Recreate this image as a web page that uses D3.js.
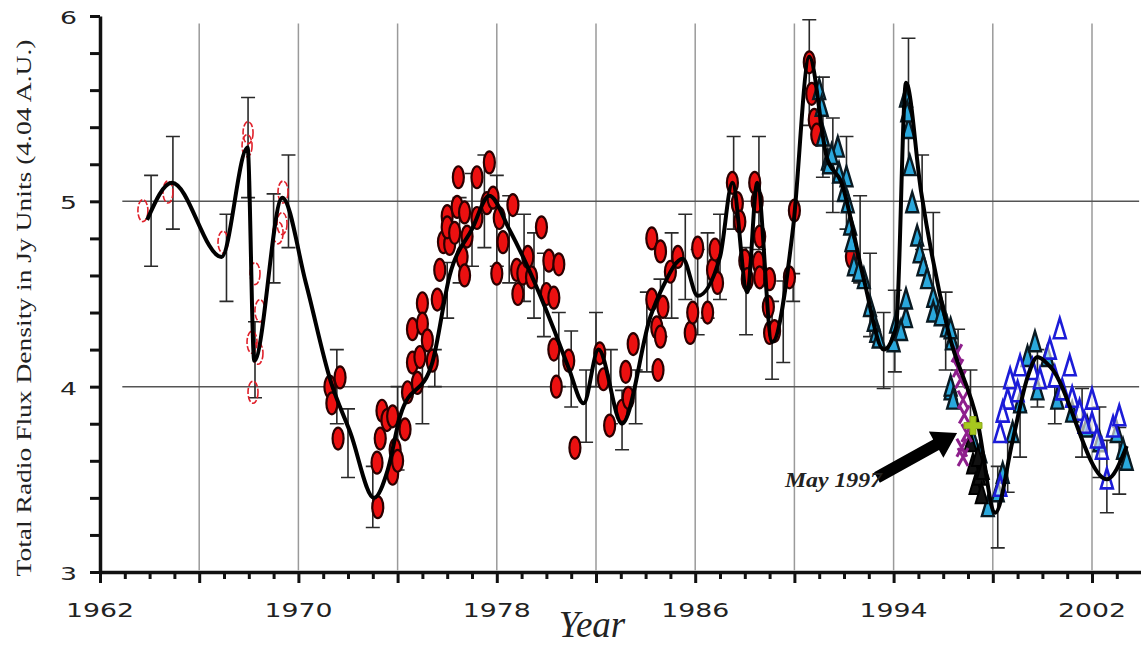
<!DOCTYPE html>
<html>
<head>
<meta charset="utf-8">
<script src="https://cdn.jsdelivr.net/npm/d3@7"></script>
<style>
  body { margin:0; background:#fff; }
  text { fill:#222; }
</style>
</head>
<body>
<svg id="chart" width="1141" height="646"></svg>
<script>
// ---- data (year, value) ----
var xLabels = [1962, 1970, 1978, 1986, 1994, 2002];
var yLabels = [3, 4, 5, 6];
var gridYears = [1966, 1970, 1974, 1978, 1982, 1986, 1990, 1994, 1998, 2002];
var gridValues = [4, 5];

var fitCurve = [[1963.9,4.90],[1964.9,5.10],[1966.9,4.70],[1967.95,5.29],[1968.22,4.14],[1969.35,5.02],
  [1970.3,4.56],[1971.3,4.03],[1972.1,3.75],[1973.05,3.40],[1973.6,3.55],[1974.1,3.84],[1975.4,4.13],
  [1976.1,4.60],[1977.0,4.85],[1977.7,5.03],[1978.5,4.85],[1979.3,4.63],[1980.3,4.31],[1980.9,4.10],
  [1981.5,3.91],[1982.1,4.20],[1983.05,3.80],[1984.2,4.38],[1984.7,4.54],[1985.5,4.69],[1986.1,4.49],
  [1987.0,4.70],[1987.5,5.10],[1988.1,4.51],[1988.5,5.10],[1989.1,4.24],[1989.95,4.86],[1990.6,5.78],
  [1991.3,5.24],[1991.9,5.10],[1992.8,4.58],[1993.6,4.20],[1994.1,4.32],[1994.5,5.64],[1995.1,5.06],
  [1996.2,4.30],[1997.4,3.80],[1998.1,3.32],[1998.8,3.71],[1999.4,4.05],[1999.8,4.16],[2000.3,4.11],
  [2002.6,3.50],[2003.4,3.68]];

var openRed = [[1963.73,4.95],[1964.74,5.05],[1966.96,4.78],[1967.97,5.37],[1967.93,5.30],[1968.25,4.61],
  [1968.45,4.41],[1968.13,4.24],[1968.37,4.18],[1968.17,3.97],[1969.18,4.83],[1969.34,4.88],[1969.38,5.05]];

var filledRed = [[1971.27,4.00],[1971.68,4.05],[1971.35,3.91],[1971.6,3.72],[1973.17,3.59],[1973.2,3.35],
  [1973.37,3.87],[1973.57,3.82],[1973.8,3.84],[1973.8,3.53],[1973.9,3.66],[1974.3,3.77],[1974.6,4.31],
  [1974.6,4.13],[1974.4,3.97],[1974.9,4.16],[1975.0,4.45],[1975.0,4.34],[1975.4,4.14],[1975.6,4.47],
  [1975.7,4.63],[1975.85,4.78],[1976.0,4.92],[1976.1,4.77],[1976.0,4.86],[1976.45,5.13],[1976.4,4.97],
  [1976.7,4.94],[1976.6,4.70],[1976.7,4.60],[1976.8,4.81],[1977.2,5.13],[1977.2,4.91],[1977.6,4.99],
  [1977.7,5.21],[1977.85,5.02],[1978.0,4.61],[1978.1,4.91],[1978.25,4.78],[1978.65,4.98],[1978.8,4.63],
  [1978.85,4.50],[1979.05,4.61],[1979.25,4.70],[1979.4,4.59],[1979.8,4.86],[1980.0,4.50],[1980.1,4.68],
  [1980.3,4.48],[1980.5,4.66],[1980.3,4.20],[1980.4,4.00],[1980.9,4.14],[1981.15,3.67],[1982.15,4.18],
  [1982.3,4.04],[1982.55,3.79],[1983.2,4.08],[1983.05,3.87],[1983.3,3.94],[1983.5,4.23],[1984.25,4.80],
  [1984.6,4.73],[1984.25,4.47],[1984.45,4.32],[1984.6,4.27],[1984.7,4.43],[1984.5,4.09],[1985.0,4.62],
  [1985.3,4.70],[1985.8,4.29],[1985.9,4.40],[1986.1,4.75],[1986.5,4.40],[1986.7,4.63],[1986.8,4.74],
  [1986.9,4.56],[1987.5,5.10],[1987.7,4.99],[1987.8,4.89],[1988.0,4.68],[1988.1,4.58],[1988.4,5.10],
  [1988.5,5.00],[1988.6,4.81],[1988.55,4.67],[1988.6,4.59],[1989.0,4.58],[1988.95,4.43],[1989.0,4.29],
  [1989.2,4.30],[1989.8,4.59],[1990.0,4.95],[1990.6,5.75],[1990.7,5.58],[1990.8,5.44],[1990.9,5.36],
  [1992.3,4.70],[1973.3,3.72],[1974.0,3.60],[1974.8,4.02],[1975.2,4.25],[1976.3,4.83]];

var cyanTri = [[1991.0,5.60],[1991.1,5.51],[1991.15,5.35],[1991.35,5.22],[1991.4,5.20],[1991.75,5.29],
  [1991.8,5.15],[1992.1,5.13],[1992.15,4.99],[1992.25,4.87],[1992.3,4.78],[1992.4,4.65],[1992.8,4.58],
  [1993.05,4.43],[1993.2,4.35],[1993.3,4.29],[1994.0,4.24],[1994.1,4.34],[1994.5,4.37],[1994.5,4.47],
  [1994.5,5.56],[1994.6,5.39],[1994.65,5.19],[1994.75,4.99],[1994.95,4.81],[1995.05,4.72],[1995.2,4.65],
  [1995.35,4.58],[1995.6,4.48],[1995.9,4.43],[1996.15,4.32],[1996.35,4.25],[1996.3,3.98],[1995.6,4.40],
  [1995.9,4.38],[1996.3,4.31],[1996.3,4.00],[1996.4,3.93],[1997.2,3.71],[1997.5,3.64],[1997.8,3.35],
  [1998.2,3.43],[1998.4,3.53],[1998.8,3.75],[1999.1,3.91],[1999.4,4.16],[1999.7,4.24],[1999.8,3.98],
  [2000.2,4.16],[2000.6,3.93],[2001.2,3.86],[2001.8,3.78],[2002.3,3.70],[2003.0,3.75],[2003.25,3.66],
  [2003.4,3.60],[1991.5,5.25],[1992.0,5.05],[1992.6,4.62],[1993.4,4.26],[1994.3,4.30],[1994.55,5.48]];

var blueTri = [[1998.3,3.75],[1998.6,3.93],[1998.7,4.04],[1999.0,3.97],[1999.1,4.11],[1999.6,4.09],
  [1999.9,4.04],[2000.3,4.20],[2000.7,4.31],[2000.8,3.98],[2001.1,4.11],[2001.2,3.94],[2001.5,3.87],
  [2002.0,3.93],[2002.0,3.80],[2002.4,3.66],[2002.6,3.50],[2002.85,3.78],[2003.1,3.84],[1998.4,3.86],
  [1998.3,3.46],[2000.5,4.05],[2001.7,3.80],[2002.2,3.72]];

var blackTri = [[1997.1,3.70],[1997.2,3.58],[1997.3,3.47],[1997.45,3.52],[1997.55,3.42],[1997.4,3.62],[1997.6,3.55]];

var purpleX = [[1996.55,4.18],[1996.6,4.10],[1996.7,4.04],[1996.8,3.93],[1996.85,3.85],[1996.75,3.67],
  [1996.8,3.62],[1996.95,3.75]];

var may1997 = [1997.2, 3.79];

// error bars: year, low, high
var errorBars = [[1964.06,4.65,5.14],[1964.94,4.85,5.35],[1967.1,4.46,4.93],[1967.97,5.02,5.56],
  [1968.25,3.94,4.35],[1969.0,4.56,5.04],[1969.6,4.75,5.25],[1971.55,3.80,4.20],[1972.0,3.51,3.88],
  [1973.0,3.24,3.57],[1974.0,3.55,4.00],[1975.0,3.80,4.20],[1975.5,4.00,4.20],[1976.0,4.37,4.67],
  [1976.5,4.56,5.02],[1977.0,4.65,5.15],[1977.5,4.75,5.25],[1978.0,4.65,5.14],[1978.5,4.56,5.03],
  [1979.1,4.46,4.93],[1979.5,4.37,4.83],[1979.9,4.27,4.72],[1980.5,4.00,4.40],[1981.0,3.89,4.30],
  [1981.6,3.70,4.09],[1982.0,4.00,4.40],[1982.6,3.80,4.20],[1983.05,3.66,3.98],[1983.6,3.80,4.09],
  [1984.05,4.08,4.51],[1984.6,4.27,4.58],[1985.05,4.37,4.83],[1985.6,4.47,4.93],[1986.1,4.28,4.74],
  [1986.5,4.37,4.83],[1987.0,4.47,4.93],[1987.55,4.85,5.35],[1988.05,4.28,4.75],[1988.57,4.74,5.35],
  [1989.1,4.04,4.46],[1989.55,4.13,4.57],[1989.95,4.46,4.61],[1990.6,5.41,5.98],[1991.15,5.13,5.67],
  [1991.55,4.94,5.45],[1992.1,4.85,5.35],[1992.65,4.56,5.03],[1993.05,4.27,4.72],[1993.6,3.99,4.40],
  [1994.05,4.08,4.52],[1994.6,5.15,5.88],[1995.15,4.74,5.25],[1995.6,4.43,4.94],[1996.1,4.09,4.51],
  [1996.6,4.09,4.31],[1997.1,3.71,4.09],[1998.2,3.13,3.57],[1998.6,3.43,3.70],[1999.1,3.62,3.87],
  [1999.8,3.89,4.20],[2000.5,3.80,4.00],[2001.6,3.62,3.99],[2002.3,3.51,3.89],[2002.6,3.32,3.71],
  [2003.1,3.42,3.78]];

var arrowFrom = [1993.33, 3.51], arrowTo = [1996.56, 3.75];
var arrowLabel = {text:"May 1997", year:1989.62, value:3.459};

// ---- scales ----
var svg = d3.select("#chart");
var x = d3.scaleLinear().domain([1962, 2004]).range([100, 1141.6]);
var y = d3.scaleLinear().domain([3, 6]).range([572, 16]);

// grid
svg.append("g").selectAll("line").data(gridYears).enter().append("line")
  .attr("x1", function(d){ return x(d); }).attr("x2", function(d){ return x(d); })
  .attr("y1", y(5.96)).attr("y2", y(3.01))
  .attr("stroke", "#9a9a9a").attr("stroke-width", 1.5);
svg.append("g").selectAll("line").data(gridValues).enter().append("line")
  .attr("x1", x(1962.9)).attr("x2", x(2003.9))
  .attr("y1", function(d){ return y(d); }).attr("y2", function(d){ return y(d); })
  .attr("stroke", "#555").attr("stroke-width", 1.5);

// axes
var xAxis = d3.axisBottom(x).tickValues(d3.range(1962, 2004)).tickSize(8).tickSizeOuter(0).tickFormat("");
var gx = svg.append("g").attr("transform", "translate(0," + y(3) + ")").call(xAxis);
gx.select(".domain").attr("stroke", "#111").attr("stroke-width", 3.5);
gx.selectAll(".tick line").attr("stroke", "#111").attr("stroke-width", 3)
  .attr("y2", function(d){ return (d - 1962) % 4 == 0 ? 11 : 7; });

var yAxis = d3.axisLeft(y).tickValues(d3.range(0, 16).map(function(i){ return 3 + i * 0.2; }))
  .tickSize(10).tickSizeOuter(0).tickFormat("");
var gy = svg.append("g").attr("transform", "translate(" + x(1962) + ",0)").call(yAxis);
gy.select(".domain").attr("stroke", "#111").attr("stroke-width", 3.5);
gy.selectAll(".tick line").attr("stroke", "#111").attr("stroke-width", 3);

svg.append("g").selectAll("text").data(xLabels).enter().append("text")
  .attr("x", function(d){ return x(d) - 34; }).attr("y", 617)
  .attr("textLength", 68).attr("lengthAdjust", "spacingAndGlyphs")
  .style("font", "20px 'DejaVu Sans'").text(function(d){ return d; });
svg.append("g").selectAll("text").data(yLabels).enter().append("text")
  .attr("x", 60).attr("y", function(d){ return y(d) + 8; })
  .attr("textLength", 17).attr("lengthAdjust", "spacingAndGlyphs")
  .style("font", "17px 'DejaVu Sans'").text(function(d){ return d; });

svg.append("text").attr("x", 592).attr("y", 637).attr("text-anchor", "middle")
  .style("font", "italic 37px 'Liberation Serif'").text("Year");
svg.append("text").attr("transform", "translate(31,308) rotate(-90)").attr("text-anchor", "middle")
  .attr("textLength", 537).attr("lengthAdjust", "spacingAndGlyphs")
  .style("font", "22px 'Liberation Serif'").text("Total Radio Flux Density in  Jy Units (4.04 A.U.)");

// error bars
var eb = svg.append("g").attr("stroke", "#2a2a2a").attr("stroke-width", 1.6).attr("fill", "none");
eb.selectAll("path").data(errorBars).enter().append("path")
  .attr("d", function(d){
    var cx = x(d[0]), lo = y(d[1]), hi = y(d[2]);
    return "M" + (cx - 7) + "," + hi + "H" + (cx + 7) + "M" + cx + "," + hi + "V" + lo +
           "M" + (cx - 7) + "," + lo + "H" + (cx + 7);
  });

// markers
var tri = function(d){
  var cx = x(d[0]), cy = y(d[1]);
  return "M" + cx + "," + (cy - 11) + "L" + (cx + 6) + "," + (cy + 9) + "L" + (cx - 6) + "," + (cy + 9) + "Z";
};
svg.append("g").selectAll("ellipse").data(openRed).enter().append("ellipse")
  .attr("cx", function(d){ return x(d[0]); }).attr("cy", function(d){ return y(d[1]); })
  .attr("rx", 5).attr("ry", 11).attr("fill", "none").attr("stroke", "#e0202a").attr("stroke-width", 1.6)
  .attr("stroke-dasharray", "6,2");
svg.append("g").selectAll("ellipse").data(filledRed).enter().append("ellipse")
  .attr("cx", function(d){ return x(d[0]); }).attr("cy", function(d){ return y(d[1]); })
  .attr("rx", 5.5).attr("ry", 11).attr("fill", "#ec1010").attr("stroke", "#2a0000").attr("stroke-width", 2.2);
svg.append("g").selectAll("path").data(cyanTri).enter().append("path")
  .attr("d", tri).attr("fill", "#2aa8dc").attr("stroke", "#0a1a22").attr("stroke-width", 2.4);
svg.append("g").selectAll("path").data(blueTri).enter().append("path")
  .attr("d", tri).attr("fill", "#ffffff").attr("fill-opacity", 0.6).attr("stroke", "#1c1cd8").attr("stroke-width", 2.6);
svg.append("g").selectAll("path").data(blackTri).enter().append("path")
  .attr("d", tri).attr("fill", "#111").attr("stroke", "#000").attr("stroke-width", 2);
svg.append("g").selectAll("path").data(purpleX).enter().append("path")
  .attr("d", function(d){
    var cx = x(d[0]), cy = y(d[1]);
    return "M" + (cx - 5) + "," + (cy - 9) + "L" + (cx + 5) + "," + (cy + 9) +
           "M" + (cx + 5) + "," + (cy - 9) + "L" + (cx - 5) + "," + (cy + 9);
  })
  .attr("stroke", "#8e1f8c").attr("stroke-width", 3).attr("fill", "none");

// fitted curve
var line = d3.line().x(function(d){ return x(d[0]); }).y(function(d){ return y(d[1]); }).curve(d3.curveMonotoneX);
svg.append("path").datum(fitCurve).attr("d", line)
  .attr("fill", "none").attr("stroke", "#000").attr("stroke-width", 4).attr("stroke-linejoin", "round");

// May 1997 plus
var px = x(may1997[0]), py = y(may1997[1]);
svg.append("path")
  .attr("d", "M" + (px - 3) + "," + (py - 9) + "h6v6h6v6h-6v6h-6v-6h-6v-6h6z")
  .attr("fill", "#a6c81e").attr("stroke", "#8aa818").attr("stroke-width", 1);

// arrow
var ax0 = x(arrowFrom[0]), ay0 = y(arrowFrom[1]), ax1 = x(arrowTo[0]), ay1 = y(arrowTo[1]);
var len = Math.hypot(ax1 - ax0, ay1 - ay0), ux = (ax1 - ax0) / len, uy = (ay1 - ay0) / len, nx = -uy, ny = ux;
var bx = ax1 - ux * 24, by = ay1 - uy * 24;
var pts = [[ax0 + nx * 6, ay0 + ny * 6], [bx + nx * 6, by + ny * 6], [bx + nx * 15, by + ny * 15], [ax1, ay1],
           [bx - nx * 15, by - ny * 15], [bx - nx * 6, by - ny * 6], [ax0 - nx * 6, ay0 - ny * 6]];
svg.append("path").attr("d", "M" + pts.join("L") + "Z").attr("fill", "#000");

svg.append("text").attr("x", x(arrowLabel.year)).attr("y", y(arrowLabel.value))
  .attr("textLength", 97).attr("lengthAdjust", "spacingAndGlyphs")
  .style("font", "bold italic 20px 'Liberation Serif'").text(arrowLabel.text);
</script>
</body>
</html>
